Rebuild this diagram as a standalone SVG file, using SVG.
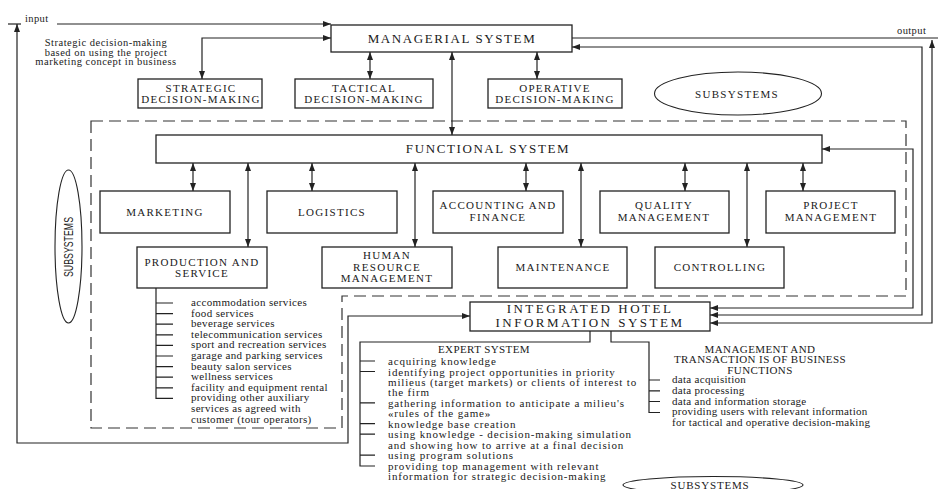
<svg xmlns="http://www.w3.org/2000/svg" width="938" height="489" viewBox="0 0 938 489">
<style>
.box{fill:#fff;stroke:#222;stroke-width:1.3}
.ell{fill:none;stroke:#222;stroke-width:1.1}
.c{fill:none;stroke:#222;stroke-width:1.2}
.dash{fill:none;stroke:#333;stroke-width:1.2;stroke-dasharray:12 6}
text{font-family:"Liberation Serif","Times New Roman",serif;fill:#1a1a1a}
.lb{font-size:11px;letter-spacing:1.3px;text-anchor:middle}
.big{font-size:13px;letter-spacing:1.6px;text-anchor:middle}
.ih{font-size:13px;letter-spacing:2.5px;text-anchor:middle}
.ls{font-size:11px;letter-spacing:0.35px}
.ex{font-size:11px;letter-spacing:0.85px}
.mt{font-size:11px;letter-spacing:0.3px}
.hd{font-size:11px;letter-spacing:0.4px;text-anchor:middle}
.nt{font-size:10.5px;letter-spacing:0.5px;text-anchor:middle}
.io{font-size:10.5px;letter-spacing:0.4px}
</style>
<defs>
<marker id="ah" viewBox="0 0 8 6" refX="8" refY="3" markerWidth="8" markerHeight="6" markerUnits="userSpaceOnUse" orient="auto-start-reverse"><path d="M0,0 L8,3 L0,6 z" fill="#222"/></marker>
</defs>

<g id="subsystem-frame">
<path class="dash" d="M91,121 H906 V296 H342 V428 H91 Z"/>
</g>

<g id="connectors">
<path class="c" d="M8,24 H21"/>
<path class="c" d="M57,24 H331" marker-end="url(#ah)"/>
<path class="c" d="M202,79 V38 H331" marker-start="url(#ah)" marker-end="url(#ah)"/>
<path class="c" d="M370,52 V79" marker-start="url(#ah)" marker-end="url(#ah)"/>
<path class="c" d="M537,52 V79" marker-start="url(#ah)" marker-end="url(#ah)"/>
<path class="c" d="M452,52 V135" marker-start="url(#ah)" marker-end="url(#ah)"/>
<path class="c" d="M572,38 H938"/>
<path class="c" d="M572,47 H922 V315 H710" marker-start="url(#ah)" marker-end="url(#ah)"/>
<path class="c" d="M932,40 V323 H710" marker-start="url(#ah)" marker-end="url(#ah)"/>
<path class="c" d="M822,149 H913 V308 H710" marker-start="url(#ah)" marker-end="url(#ah)"/>
<path class="c" d="M193,163 V191" marker-start="url(#ah)" marker-end="url(#ah)"/>
<path class="c" d="M312,163 V191" marker-start="url(#ah)" marker-end="url(#ah)"/>
<path class="c" d="M526,163 V191" marker-start="url(#ah)" marker-end="url(#ah)"/>
<path class="c" d="M685,163 V191" marker-start="url(#ah)" marker-end="url(#ah)"/>
<path class="c" d="M803,163 V191" marker-start="url(#ah)" marker-end="url(#ah)"/>
<path class="c" d="M248,163 V247" marker-start="url(#ah)" marker-end="url(#ah)"/>
<path class="c" d="M415,163 V247" marker-start="url(#ah)" marker-end="url(#ah)"/>
<path class="c" d="M581,163 V247" marker-start="url(#ah)" marker-end="url(#ah)"/>
<path class="c" d="M747,163 V247" marker-start="url(#ah)" marker-end="url(#ah)"/>
<path class="c" d="M17,24 V443 H348 V316 H470" marker-start="url(#ah)" marker-end="url(#ah)"/>
<path class="c" d="M156,288 V398.4 H173 M156,303 H173 M156,313.6 H173 M156,324.2 H173 M156,334.8 H173 M156,345.4 H173 M156,356 H173 M156,366.6 H173 M156,377.2 H173 M156,387.8 H173"/>
<path class="c" d="M590,331 V342 H360 V466 H375 M360,361 H375 M360,371.5 H375 M360,402.8 H375 M360,423.7 H375 M360,434.2 H375 M360,455.1 H375"/>
<path class="c" d="M611,331 V342 H649 V412.5 H660 M649,380 H660 M649,390.8 H660 M649,401.5 H660"/>
</g>

<g id="input-label"><text class="io" x="25" y="22">input</text></g>
<g id="output-label"><text class="io" x="897" y="34">output</text></g>
<g id="strategic-note">
<text class="nt" x="106" y="46">Strategic decision-making</text>
<text class="nt" x="106" y="55.5">based on using the project</text>
<text class="nt" x="106" y="65">marketing concept in business</text>
</g>

<g id="managerial-system"><rect class="box" x="331" y="25" width="241" height="27"/><text class="big" x="452" y="42.5">MANAGERIAL SYSTEM</text></g>
<g id="strategic"><rect class="box" x="138" y="79" width="124" height="29"/><text class="lb" x="201" y="91.7">STRATEGIC</text><text class="lb" x="201" y="102.7">DECISION-MAKING</text></g>
<g id="tactical"><rect class="box" x="295" y="79" width="138" height="29"/><text class="lb" x="364" y="91.7">TACTICAL</text><text class="lb" x="364" y="102.7">DECISION-MAKING</text></g>
<g id="operative"><rect class="box" x="488" y="79" width="134" height="29"/><text class="lb" x="555" y="91.7">OPERATIVE</text><text class="lb" x="555" y="102.7">DECISION-MAKING</text></g>

<g id="subsystems-top"><ellipse class="ell" cx="738" cy="93.5" rx="83.5" ry="21.5"/><text class="lb" x="737" y="97.5">SUBSYSTEMS</text></g>
<g id="subsystems-left"><ellipse class="ell" cx="68.5" cy="246.5" rx="13.5" ry="76.5"/><text x="0" y="0" transform="translate(72.8,247) rotate(-90)" text-anchor="middle" textLength="60" lengthAdjust="spacingAndGlyphs" style="font-family:'Liberation Sans',Arial,sans-serif;font-size:12px">SUBSYSTEMS</text></g>
<g id="subsystems-bottom"><ellipse class="ell" cx="713" cy="485" rx="90" ry="8.5"/><text class="hd" x="710" y="488.5" style="letter-spacing:0.8px">SUBSYSTEMS</text></g>

<g id="functional-system"><rect class="box" x="156" y="135" width="666" height="28"/><text class="big" x="488" y="153">FUNCTIONAL SYSTEM</text></g>
<g id="marketing"><rect class="box" x="100" y="191" width="130" height="42"/><text class="lb" x="165" y="215.5">MARKETING</text></g>
<g id="logistics"><rect class="box" x="267" y="191" width="130" height="42"/><text class="lb" x="332" y="215.5">LOGISTICS</text></g>
<g id="accounting"><rect class="box" x="433" y="191" width="130" height="42"/><text class="lb" x="498" y="208.7">ACCOUNTING AND</text><text class="lb" x="498" y="220.7">FINANCE</text></g>
<g id="quality"><rect class="box" x="600" y="191" width="129" height="42"/><text class="lb" x="664" y="208.7">QUALITY</text><text class="lb" x="664" y="220.7">MANAGEMENT</text></g>
<g id="project"><rect class="box" x="766" y="191" width="129" height="42"/><text class="lb" x="831" y="208.7">PROJECT</text><text class="lb" x="831" y="220.7">MANAGEMENT</text></g>
<g id="production"><rect class="box" x="137" y="247" width="130" height="41"/><text class="lb" x="202" y="265.7">PRODUCTION AND</text><text class="lb" x="202" y="276.7">SERVICE</text></g>
<g id="human-resource"><rect class="box" x="322" y="247" width="130" height="41"/><text class="lb" x="387" y="259">HUMAN</text><text class="lb" x="387" y="270.5">RESOURCE</text><text class="lb" x="387" y="282">MANAGEMENT</text></g>
<g id="maintenance"><rect class="box" x="498" y="247" width="129" height="41"/><text class="lb" x="563" y="271">MAINTENANCE</text></g>
<g id="controlling"><rect class="box" x="655" y="247" width="129" height="41"/><text class="lb" x="720" y="271">CONTROLLING</text></g>
<g id="integrated-system"><rect class="box" x="470" y="302" width="240" height="29"/><text class="ih" x="590" y="312.5">INTEGRATED HOTEL</text><text class="ih" x="590" y="327">INFORMATION SYSTEM</text></g>

<g id="production-list">
<text class="ls" x="191" y="306">accommodation services</text>
<text class="ls" x="191" y="316.6">food services</text>
<text class="ls" x="191" y="327.2">beverage services</text>
<text class="ls" x="191" y="337.8">telecommunication services</text>
<text class="ls" x="191" y="348.4">sport and recreation services</text>
<text class="ls" x="191" y="359">garage and parking services</text>
<text class="ls" x="191" y="369.6">beauty salon services</text>
<text class="ls" x="191" y="380.2">wellness services</text>
<text class="ls" x="191" y="390.8">facility and equipment rental</text>
<text class="ls" x="191" y="401.4">providing other auxiliary</text>
<text class="ls" x="191" y="412">services as agreed with</text>
<text class="ls" x="191" y="422.6">customer (tour operators)</text>
</g>

<g id="expert-system">
<text class="hd" x="484" y="352.5">EXPERT SYSTEM</text>
<text class="ex" x="388" y="365">acquiring knowledge</text>
<text class="ex" x="388" y="375.5">identifying project opportunities in priority</text>
<text class="ex" x="388" y="385.9">milieus (target markets) or clients of interest to</text>
<text class="ex" x="388" y="396.4">the firm</text>
<text class="ex" x="388" y="406.8">gathering information to anticipate a milieu's</text>
<text class="ex" x="388" y="417.3">«rules of the game»</text>
<text class="ex" x="388" y="427.7">knowledge base creation</text>
<text class="ex" x="388" y="438.2">using knowledge - decision-making simulation</text>
<text class="ex" x="388" y="448.6">and showing how to arrive at a final decision</text>
<text class="ex" x="388" y="459.1">using program solutions</text>
<text class="ex" x="388" y="469.5">providing top management with relevant</text>
<text class="ex" x="388" y="480">information for strategic decision-making</text>
</g>

<g id="management-transaction">
<text class="hd" x="760" y="352.7">MANAGEMENT AND</text>
<text class="hd" x="760" y="363.2">TRANSACTION IS OF BUSINESS</text>
<text class="hd" x="760" y="373.7">FUNCTIONS</text>
<text class="mt" x="672" y="383">data acquisition</text>
<text class="mt" x="672" y="393.8">data processing</text>
<text class="mt" x="672" y="404.5">data and information storage</text>
<text class="mt" x="672" y="415.3">providing users with relevant information</text>
<text class="mt" x="672" y="426">for tactical and operative decision-making</text>
</g>
</svg>
